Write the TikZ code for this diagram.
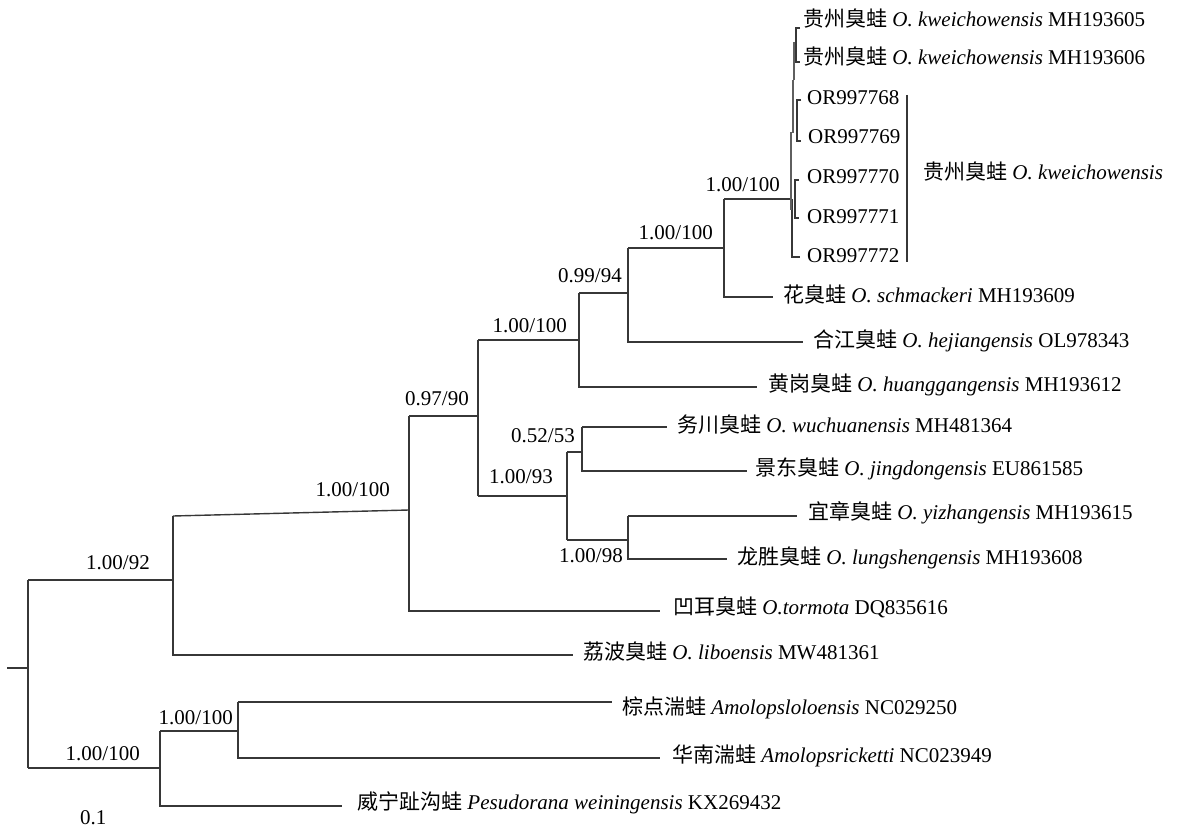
\documentclass[tikz,border=0pt]{standalone}
\usepackage{fontspec}
\setmainfont{Liberation Serif}
\newfontfamily\cjk{Noto Sans CJK SC}
\newcommand\zhtext[1]{{\cjk #1}}
\definecolor{treeline}{RGB}{55,55,55}
\begin{document}
\begin{tikzpicture}[x=1pt,y=-1pt,
  br/.style={draw=treeline,line width=1.4pt},
  fine/.style={draw=treeline,line width=1.1pt},
  thick gray/.style={draw=treeline!80,line width=2.6pt},
  every node/.style={font=\fontsize{21}{25}\selectfont,inner sep=0pt},
  lf/.style={anchor=base west},
  sup/.style={anchor=base east}]
\useasboundingbox (0,0) rectangle (1180,829);
% internal nodes
\coordinate (r0) at (7,668);
\coordinate (r) at (28,668);
\coordinate (U) at (173,580);
\coordinate (Ut) at (173,516);
\coordinate (N1) at (409,510);
\coordinate (N1t) at (409,416);
\coordinate (N2) at (478,416);
\coordinate (N3) at (579,340);
\coordinate (N4) at (628,293);
\coordinate (N5) at (724,248);
\coordinate (N6) at (792,199);
\coordinate (N7) at (567,496);
\coordinate (N8) at (582,452);
\coordinate (N9) at (628,540);
\coordinate (O) at (160,768);
\coordinate (A) at (238,731);
% leaf tips
\coordinate (tshm) at (773,297);
\coordinate (thej) at (803,342);
\coordinate (thg) at (757,387);
\coordinate (twc) at (667,427);
\coordinate (tjd) at (747,471);
\coordinate (tyz) at (797,516);
\coordinate (tls) at (727,559);
\coordinate (tae) at (660,611);
\coordinate (tlb) at (573,655);
\coordinate (tzd) at (612,702);
\coordinate (thn) at (660,758);
\coordinate (twn) at (342,806);
% branches
\draw[br] (r0) -- (r);
\draw[br] (r |- U) -- (r |- O);
\draw[br] (r |- U) -- (U);
\draw[br] (Ut) -- (U |- tlb) -- (tlb);
\draw[br] (Ut) -- (N1);
\draw[br] (N1t) -- (N1 |- tae) -- (tae);
\draw[br] (N1t) -- (N2);
\draw[br] (N2 |- N3) -- (N2 |- N7);
\draw[br] (N2 |- N3) -- (N3);
\draw[br] (N3 |- N4) -- (N3 |- thg) -- (thg);
\draw[br] (N3 |- N4) -- (N4);
\draw[br] (N4 |- N5) -- (N4 |- thej) -- (thej);
\draw[br] (N4 |- N5) -- (N5);
\draw[br] (N5 |- N6) -- (N5 |- tshm) -- (tshm);
\draw[br] (N5 |- N6) -- (N6);
\draw[br] (N2 |- N7) -- (N7);
\draw[br] (N7 |- N8) -- (N7 |- N9);
\draw[br] (N7 |- N8) -- (N8);
\draw[br] (N8 |- twc) -- (twc);
\draw[br] (N8 |- twc) -- (N8 |- tjd) -- (tjd);
\draw[br] (N7 |- N9) -- (N9);
\draw[br] (N9 |- tyz) -- (tyz);
\draw[br] (N9 |- tyz) -- (N9 |- tls) -- (tls);
\draw[br] (r |- O) -- (O);
\draw[br] (O |- A) -- (O |- twn) -- (twn);
\draw[br] (O |- A) -- (A);
\draw[br] (A |- tzd) -- (tzd);
\draw[br] (A |- tzd) -- (A |- thn) -- (thn);
% fine structure of the kweichowensis clade
\coordinate (k1a) at (796,28);  \coordinate (k1b) at (796,62);
\coordinate (k2a) at (797,100); \coordinate (k2b) at (797,141);
\coordinate (k3a) at (795,180); \coordinate (k3b) at (795,218);
\coordinate (k4) at (792,257);
\draw[fine] (N6) -- (k4) -- ++(8,0);
\draw[thick gray] (791,132) -- (791,210);
\draw[thick gray] (793,80) -- (793,133);
\draw[thick gray] (794,42) -- (794,80);
\draw[fine] (k1a) ++(4,0) -- (k1a) -- (k1b) -- ++(4,0);
\draw[fine] (k2a) ++(4,0) -- (k2a) -- (k2b) -- ++(4,0);
\draw[fine] (k3a) ++(4,0) -- (k3a) -- (k3b) -- ++(4,0);
% bracket
\coordinate (bt) at (907,95); \coordinate (bb) at (907,262);
\draw[fine] (bt) -- (bb);
% leaf labels
\node[lf] (k605) at (803,27) {\zhtext{贵州臭蛙} \textit{O. kweichowensis} MH193605};
\node[lf] (k606) at (803,65) {\zhtext{贵州臭蛙} \textit{O. kweichowensis} MH193606};
\node[lf] (or68) at (807,105) {OR997768};
\node[lf] (or69) at (808,144) {OR997769};
\node[lf] (or70) at (807,184) {OR997770};
\node[lf] (or71) at (807,223) {OR997771};
\node[lf] (or72) at (807,262) {OR997772};
\node[lf] (kw) at (923,180) {\zhtext{贵州臭蛙} \textit{O. kweichowensis}};
\node[lf] (shm) at (783,302) {\zhtext{花臭蛙} \textit{O. schmackeri} MH193609};
\node[lf] (hej) at (813,347) {\zhtext{合江臭蛙} \textit{O. hejiangensis} OL978343};
\node[lf] (hg) at (768,391) {\zhtext{黄岗臭蛙} \textit{O. huanggangensis} MH193612};
\node[lf] (wc) at (677,432) {\zhtext{务川臭蛙} \textit{O. wuchuanensis} MH481364};
\node[lf] (jd) at (755,475) {\zhtext{景东臭蛙} \textit{O. jingdongensis} EU861585};
\node[lf] (yz) at (808,519) {\zhtext{宜章臭蛙} \textit{O. yizhangensis} MH193615};
\node[lf] (ls) at (737,564) {\zhtext{龙胜臭蛙} \textit{O. lungshengensis} MH193608};
\node[lf] (ae) at (673,614) {\zhtext{凹耳臭蛙} \textit{O.tormota} DQ835616};
\node[lf] (lb) at (583,659) {\zhtext{荔波臭蛙} \textit{O. liboensis} MW481361};
\node[lf] (zd) at (622,714) {\zhtext{棕点湍蛙} \textit{Amolopsloloensis} NC029250};
\node[lf] (hn) at (672,762) {\zhtext{华南湍蛙} \textit{Amolopsricketti} NC023949};
\node[lf] (wn) at (357,809) {\zhtext{威宁趾沟蛙} \textit{Pesudorana weiningensis} KX269432};
% support values
\node[sup] (sU) at (150,569) {1.00/92};
\node[sup] (sN1) at (390,496) {1.00/100};
\node[sup] (sN2) at (469,405) {0.97/90};
\node[sup] (sN3) at (567,332) {1.00/100};
\node[sup] (sN4) at (622,282) {0.99/94};
\node[sup] (sN5) at (713,240) {1.00/100};
\node[sup] (sN6) at (780,192) {1.00/100};
\node[sup] (sN8) at (575,442) {0.52/53};
\node[sup] (sN7) at (553,483) {1.00/93};
\node[sup] (sN9) at (623,562) {1.00/98};
\node[sup] (sO) at (140,760) {1.00/100};
\node[sup] (sA) at (233,724) {1.00/100};
\node[lf] (scale) at (80,824) {0.1};
\end{tikzpicture}
\end{document}
